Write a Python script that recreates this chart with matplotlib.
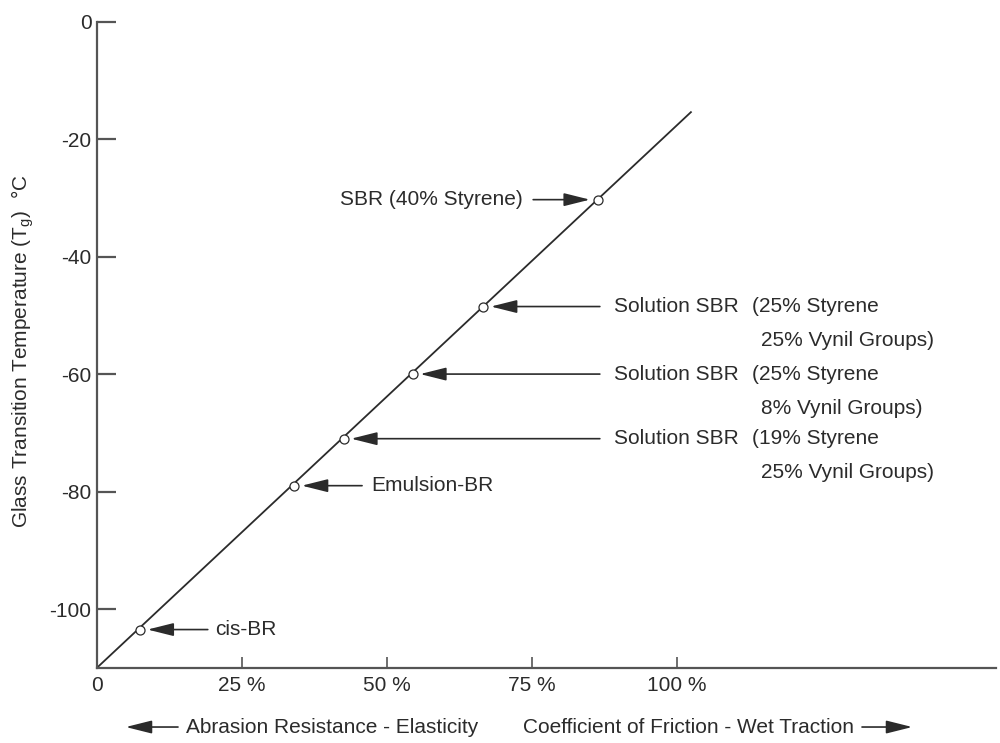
import matplotlib
matplotlib.use("Agg")
import matplotlib.pyplot as plt

# Tg of the rubbers and their position on the % scale
polymers = ["cis-BR", "Emulsion-BR", "Solution SBR", "Solution SBR", "Solution SBR", "SBR (40% Styrene)"]
styrene = ["", "", "(19% Styrene", "(25% Styrene", "(25% Styrene", ""]
vinyl = ["", "", "25% Vynil Groups)", "8% Vynil Groups)", "25% Vynil Groups)", ""]
scale_pos = [7.4, 34.0, 42.5, 54.4, 66.6, 86.3]
tg_values = [-103.5, -79.0, -71.0, -60.0, -48.5, -30.3]

trend_x = [0, 102.4]
trend_y = [-110, -15.4]

y_ticks = [0, -20, -40, -60, -80, -100]
x_ticks = [0, 25, 50, 75, 100]
x_tick_labels = ["0", "25 %", "50 %", "75 %", "100 %"]

plt.rcParams["font.family"] = ["Liberation Sans Narrow", "Liberation Sans", "DejaVu Sans"]
plt.rcParams["axes.unicode_minus"] = False
plt.rcParams["font.size"] = 15

ink = "#2b2b2b"
arrow_kw = dict(arrowstyle="-|>,head_length=1.6,head_width=0.4", color=ink, lw=1.2,
                shrinkA=0, mutation_scale=10)

fig = plt.figure(figsize=(10, 7.43), dpi=100)
ax = fig.add_axes([0.097, 0.1013, 0.899, 0.8695])

ax.plot(trend_x, trend_y, color=ink, lw=1.3)
ax.plot(scale_pos, tg_values, "o", ms=6.5, mfc="white", mec=ink, mew=0.9, zorder=3)

ax.set_xlim(0, 155)
ax.set_ylim(-110, 0)
ax.set_xticks(x_ticks)
ax.set_xticklabels(x_tick_labels)
ax.set_yticks(y_ticks)
ax.set_yticklabels([str(v) for v in y_ticks])

for side in ["top", "right"]:
    ax.spines[side].set_visible(False)
for side in ["left", "bottom"]:
    ax.spines[side].set_color("#555555")
    ax.spines[side].set_linewidth(1.6)

ax.tick_params(axis="y", direction="in", length=14, width=1.6, color="#555555", pad=4, labelcolor=ink)
ax.tick_params(axis="x", direction="in", length=8, width=1.2, color="#555555", pad=6, labelcolor=ink)

ax.set_ylabel(r"Glass Transition Temperature (T$_{\mathregular{g}}$)  °C", color=ink)
ax.yaxis.set_label_coords(-0.068, 0.49)

# arrow tails and label positions (in % scale units)
for i, (name, x, y) in enumerate(zip(polymers, scale_pos, tg_values)):
    if i == 0:
        tail, lab, ha = 19.1, 20.3, "left"
    elif i == 1:
        tail, lab, ha = 45.7, 47.2, "left"
    elif i == 5:
        tail, lab, ha = 75.2, 73.4, "right"
    else:
        tail, lab, ha = 86.7, 89.2, "left"
    ax.annotate("", xy=(x, y), xytext=(tail, y), arrowprops=dict(shrinkB=5.5, **arrow_kw))
    ax.text(lab, y, name, ha=ha, va="center", color=ink)
    if styrene[i]:
        ax.text(113.0, y, styrene[i], ha="left", va="center", color=ink)
        ax.text(114.5, y - 5.8, vinyl[i], ha="left", va="center", color=ink)

# direction captions under the axis
fig.text(0.186, 0.0215, "Abrasion Resistance - Elasticity", ha="left", va="center", color=ink)
fig.text(0.523, 0.0215, "Coefficient of Friction - Wet Traction", ha="left", va="center", color=ink)
fig.add_artist(matplotlib.patches.FancyArrowPatch((0.178, 0.0215), (0.123, 0.0215),
               transform=fig.transFigure, **arrow_kw))
fig.add_artist(matplotlib.patches.FancyArrowPatch((0.862, 0.0215), (0.915, 0.0215),
               transform=fig.transFigure, **arrow_kw))

fig.savefig("out.png", dpi=100, facecolor="white")
